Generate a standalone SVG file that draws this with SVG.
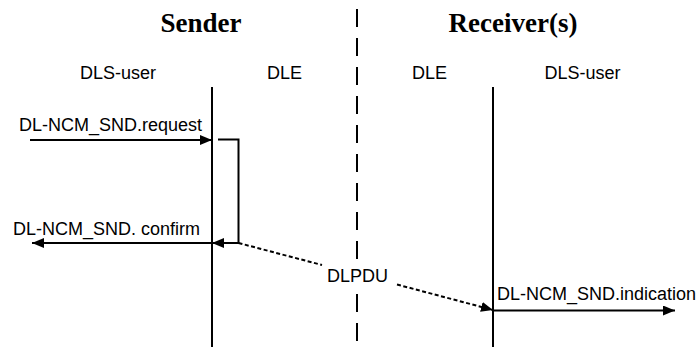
<svg xmlns="http://www.w3.org/2000/svg" width="698" height="347" viewBox="0 0 698 347">
  <style>
    .title { font-family: "Liberation Serif", "Times New Roman", serif; font-weight: bold; font-size: 27px; fill: #000; }
    .lbl { font-family: "Liberation Sans", Arial, sans-serif; font-size: 18px; fill: #000; }
    .life { stroke: #000; stroke-width: 2; fill: none; }
    .msg { stroke: #000; stroke-width: 2; fill: none; }
    .pdu { stroke: #000; stroke-width: 2; fill: none; stroke-dasharray: 4 2.5; }
    .divider { stroke: #000; stroke-width: 2; fill: none; stroke-dasharray: 18 11; }
  </style>
  <defs>
    <marker id="head" markerWidth="12" markerHeight="10" refX="12" refY="5" orient="auto" markerUnits="userSpaceOnUse">
      <path d="M0,0 L12,5 L0,10 Z" fill="#000"/>
    </marker>
  </defs>
  <rect width="698" height="347" fill="#fff"/>

  <!-- side headings -->
  <g id="sender-title"><text class="title" x="201" y="32" text-anchor="middle">Sender</text></g>
  <g id="receiver-title"><text class="title" x="513" y="32" text-anchor="middle">Receiver(s)</text></g>

  <!-- sender / receiver separation -->
  <g id="divider">
    <line class="divider" x1="357" y1="9" x2="357" y2="262"/>
    <line class="divider" x1="357" y1="294" x2="357" y2="347"/>
  </g>

  <!-- column headings and lifelines -->
  <g id="sender-user"><text class="lbl" x="118" y="79" text-anchor="middle">DLS-user</text></g>
  <g id="sender-dle">
    <text class="lbl" x="284.5" y="79" text-anchor="middle">DLE</text>
    <line class="life" x1="212" y1="87" x2="212" y2="347"/>
  </g>
  <g id="receiver-dle">
    <text class="lbl" x="429.5" y="79" text-anchor="middle">DLE</text>
    <line class="life" x1="493" y1="87" x2="493" y2="347"/>
  </g>
  <g id="receiver-user"><text class="lbl" x="582.5" y="79" text-anchor="middle">DLS-user</text></g>

  <!-- primitives -->
  <g id="connectors">
    <line class="msg" x1="30" y1="140" x2="212" y2="140" marker-end="url(#head)"/>
    <polyline class="msg" points="218,139.5 238.5,139.5 238.5,243 212,243" marker-end="url(#head)"/>
    <line class="msg" x1="212" y1="243" x2="32" y2="243" marker-end="url(#head)"/>
    <line class="pdu" x1="238.5" y1="243" x2="322" y2="265"/>
    <line class="pdu" x1="397" y1="284.5" x2="493" y2="310" marker-end="url(#head)"/>
    <line class="msg" x1="493" y1="310.5" x2="675" y2="310.5" marker-end="url(#head)"/>
  </g>

  <g id="labels">
    <text class="lbl" x="19" y="131">DL-NCM_SND.request</text>
    <text class="lbl" x="13" y="235">DL-NCM_SND. confirm</text>
    <text class="lbl" x="327" y="282">DLPDU</text>
    <text class="lbl" x="497" y="300">DL-NCM_SND.indication</text>
  </g>
</svg>
